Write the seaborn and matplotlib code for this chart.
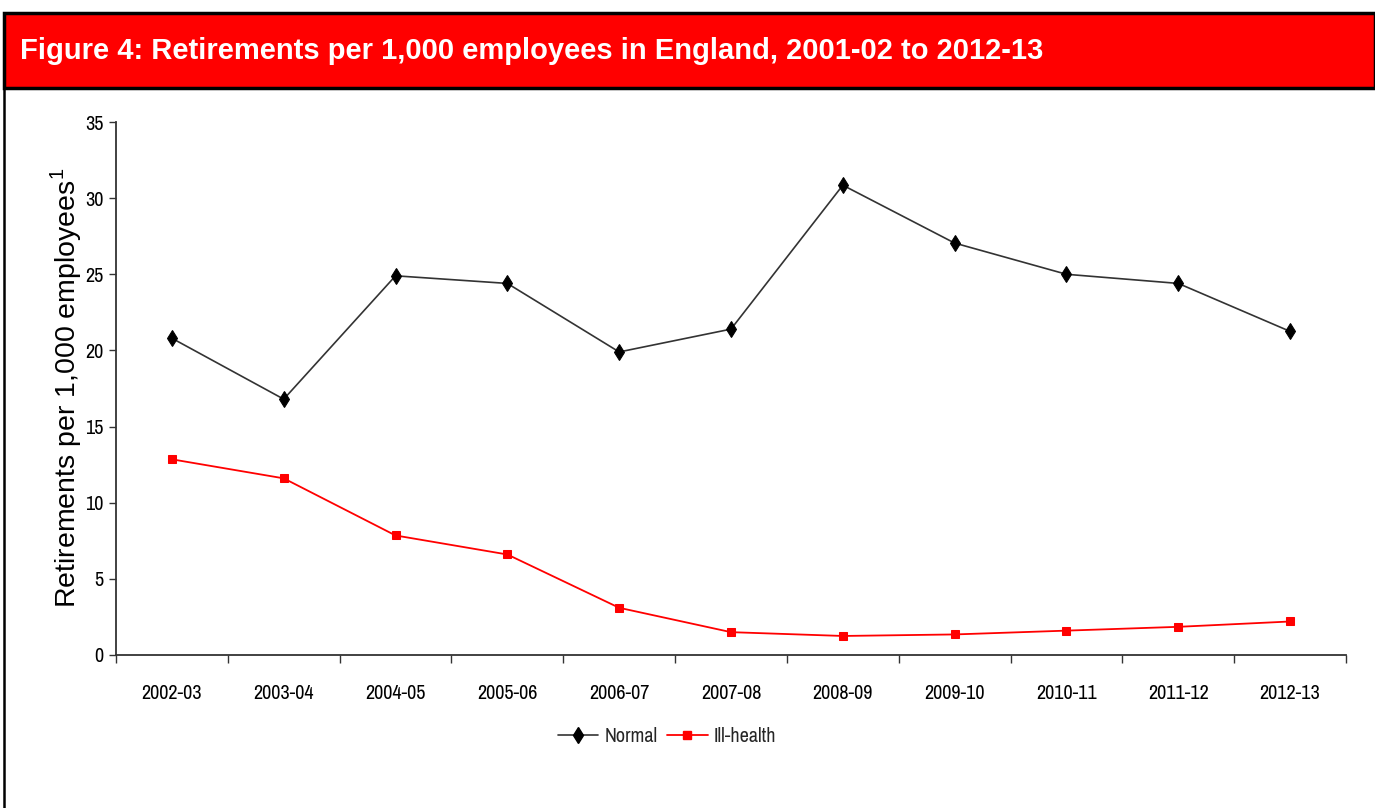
import matplotlib
matplotlib.use("Agg")
import matplotlib.pyplot as plt
import matplotlib.font_manager as fm
from matplotlib.patches import Rectangle
from matplotlib.lines import Line2D
import seaborn as sns
import pandas as pd

years = ["2002-03", "2003-04", "2004-05", "2005-06", "2006-07", "2007-08",
         "2008-09", "2009-10", "2010-11", "2011-12", "2012-13"]
normal = [20.8, 16.8, 24.9, 24.4, 19.9, 21.4, 30.85, 27.05, 25.0, 24.4, 21.25]
ill_health = [12.85, 11.6, 7.85, 6.6, 3.1, 1.5, 1.25, 1.35, 1.6, 1.85, 2.2]
series_names = ["Normal", "Ill-health"]
title_text = "Figure 4: Retirements per 1,000 employees in England, 2001-02 to 2012-13"
ylabel_text = "Retirements per 1,000 employees$^{1}$"
yticks = [0, 5, 10, 15, 20, 25, 30, 35]

sns.set_theme(style="white")
names = {f.name for f in fm.fontManager.ttflist}
narrow = next((n for n in ["Archivo Narrow", "PT Sans Narrow", "Liberation Sans"] if n in names), "DejaVu Sans")
plt.rcParams['font.family'] = ['Liberation Sans', 'DejaVu Sans']
plt.rcParams['mathtext.fontset'] = 'custom'
plt.rcParams['mathtext.rm'] = 'Liberation Sans'

df = pd.DataFrame({
    "year": years * 2,
    "value": normal + ill_health,
    "series": [series_names[0]] * len(years) + [series_names[1]] * len(years),
})
df["x"] = list(range(len(years))) * 2

fig = plt.figure(figsize=(13.75, 8.08), dpi=100)
W, H = 1375, 808
ax = fig.add_axes([116 / W, 1 - 655 / H, (1346 - 116) / W, (655 - 122) / H])

palette = {"Normal": "#000000", "Ill-health": "#ff0000"}
markers = {"Normal": "d", "Ill-health": "s"}
for name in series_names:
    sub = df[df["series"] == name]
    sns.lineplot(data=sub, x="x", y="value", ax=ax, color=palette[name],
                 marker=markers[name], markersize=8 if name == "Normal" else 6,
                 markeredgecolor=palette[name], linewidth=1.3 if name == "Ill-health" else 1.2,
                 alpha=1, label=None, legend=False)
ax.get_lines()[0].set_color("#333333")
ax.get_lines()[0].set_markerfacecolor("black")
ax.get_lines()[0].set_markeredgecolor("black")

ax.set_xlim(-0.5, len(years) - 0.5)
ax.set_ylim(0, 35)
ax.set_yticks(yticks)
ax.set_yticklabels([str(t) for t in yticks], fontfamily=narrow, fontsize=14.5, color="black")
ax.set_xticks([i - 0.5 for i in range(len(years) + 1)])
ax.set_xticklabels([])
ax.set_xticks(range(len(years)), minor=True)
ax.set_xticklabels(years, minor=True, fontfamily=narrow, fontsize=14.5, color="black")
ax.tick_params(axis="x", which="major", direction="out", length=6, width=1, color="#333333", bottom=True)
ax.tick_params(axis="x", which="minor", length=0, pad=21, bottom=True)
ax.tick_params(axis="y", which="major", direction="out", length=5, width=1, color="#333333", left=True, pad=4)
ax.set_xlabel("")
ax.set_ylabel("")
fig.text(66 / W, 1 - 388 / H, ylabel_text, rotation=90, fontsize=20.5, color="black",
         ha="center", va="center")
for s in ["top", "right"]:
    ax.spines[s].set_visible(False)
for s in ["left", "bottom"]:
    ax.spines[s].set_color("#333333")
    ax.spines[s].set_linewidth(1.3)

handles = [
    Line2D([], [], color="#333333", marker="d", markersize=8, markerfacecolor="black", markeredgecolor="black", linewidth=1.2),
    Line2D([], [], color="#ff0000", marker="s", markersize=6, linewidth=1.3),
]
fig.legend(handles, series_names, loc="center", bbox_to_anchor=(667 / W, 1 - 737 / H),
           ncol=2, frameon=False, handlelength=2.0, handletextpad=0.3, columnspacing=0.5,
           prop={"family": narrow, "size": 14.5})

# title band and frame
fig.patches.append(Rectangle((4 / W, 1 - 88 / H), 1 - 4 / W, 75 / H, transform=fig.transFigure,
                             facecolor="#ff0000", edgecolor="black", linewidth=2.5, zorder=0))
fig.lines.append(Line2D([4 / W, 4 / W], [0, 1 - 88 / H], transform=fig.transFigure, color="black", linewidth=1.8))
fig.text(20 / W, 1 - 51 / H, title_text, color="white", fontsize=21, fontweight="bold",
         va="center", ha="left")

fig.savefig("out.png", dpi=100)
